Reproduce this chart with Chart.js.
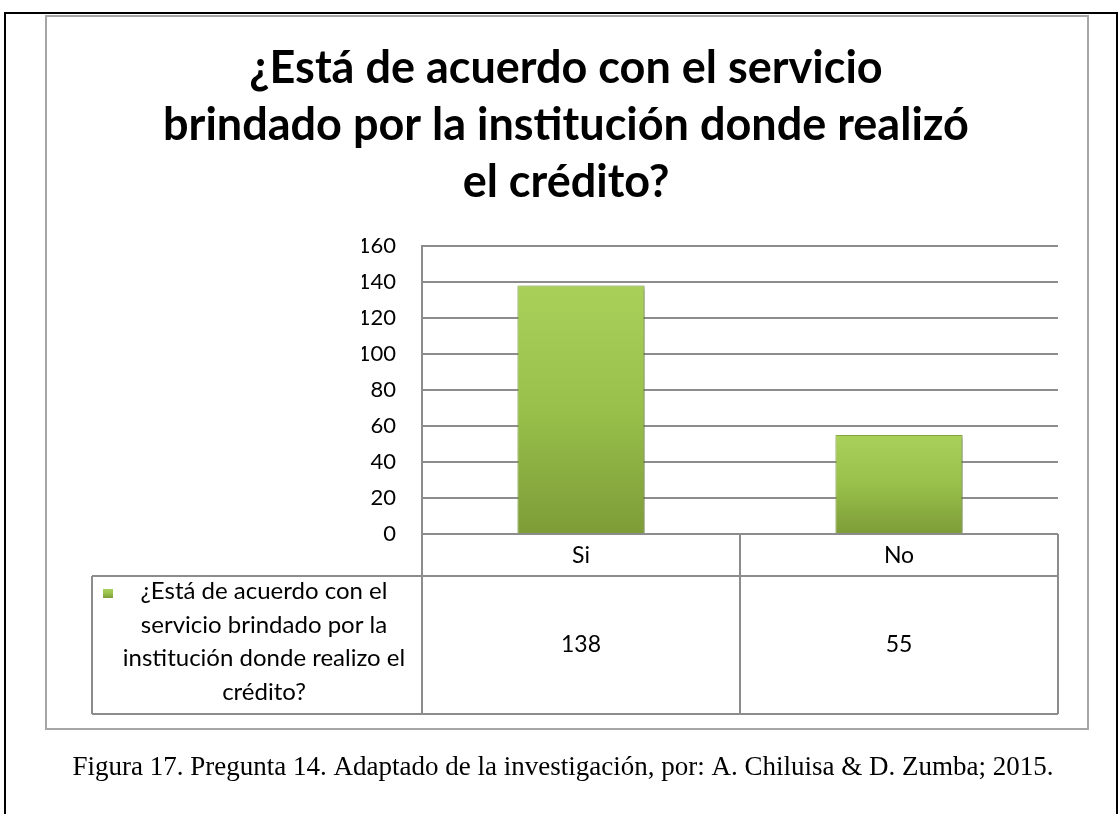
<!DOCTYPE html>
<html>
<head>
<meta charset="utf-8">
<script src="https://cdn.jsdelivr.net/npm/chart.js@4"></script>
<style>
  body { margin: 0; background: #fff; }
  canvas { display: block; }
</style>
</head>
<body>
<canvas id="chart" width="1120" height="814"></canvas>
<script>
// data
const categories = ['Si', 'No'];
const values = [138, 55];
const seriesLabel = '¿Está de acuerdo con el servicio brindado por la institución donde realizo el crédito?';
const legendLines = ['¿Está de acuerdo con el', 'servicio brindado por la', 'institución donde realizo el', 'crédito?'];
const titleLines = ['¿Está de acuerdo con el servicio', 'brindado por la institución donde realizó', 'el crédito?'];
const yTicks = [0, 20, 40, 60, 80, 100, 120, 140, 160];
const caption = 'Figura 17. Pregunta 14. Adaptado de la investigación, por: A. Chiluisa & D. Zumba; 2015.';

const FONT = 'Lato';
const LINE = '#8c8c8c';

function barGradient(c, top, bottom) {
  const g = c.createLinearGradient(0, top, 0, bottom);
  g.addColorStop(0, '#a9d15a');
  g.addColorStop(0.5, '#98c04a');
  g.addColorStop(1, '#7d9c38');
  return g;
}

const framePlugin = {
  id: 'frame',
  beforeDraw(chart) {
    const c = chart.ctx;
    c.save();
    c.fillStyle = '#fff';
    c.fillRect(0, 0, chart.width, chart.height);
    c.restore();
  },
  beforeDatasetsDraw(chart) {
    const c = chart.ctx;
    c.save();
    c.shadowColor = 'rgba(0,0,0,0.35)';
    c.shadowBlur = 4;
    c.shadowOffsetX = 2;
    c.shadowOffsetY = 1;
  },
  afterDatasetsDraw(chart) {
    chart.ctx.restore();
  },
  afterDraw(chart) {
    const c = chart.ctx;
    const area = chart.chartArea;
    const x = chart.scales.x;
    const left = area.left, right = area.right, bottom = area.bottom;
    const rowTop = 576, rowBottom = 714, cellLeft = 92;
    const mid = (x.getPixelForValue(0) + x.getPixelForValue(1)) / 2;

    c.save();
    // page border
    c.fillStyle = '#000';
    c.fillRect(4, 12, 1114, 2);
    c.fillRect(4, 12, 2, 802);
    c.fillRect(1116, 12, 2, 802);
    // chart border
    c.strokeStyle = '#a6a6a6';
    c.lineWidth = 2;
    c.strokeRect(46, 16, 1042, 713);

    // title
    c.fillStyle = '#000';
    c.font = 'bold 45px ' + FONT;
    c.textAlign = 'center';
    c.textBaseline = 'alphabetic';
    titleLines.forEach((t, i) => c.fillText(t, 566, 83 + i * 57));

    // data table lines
    c.strokeStyle = LINE;
    c.lineWidth = 2;
    c.beginPath();
    c.moveTo(left, bottom); c.lineTo(left, rowBottom);
    c.moveTo(mid, bottom); c.lineTo(mid, rowBottom);
    c.moveTo(right, bottom); c.lineTo(right, rowBottom);
    c.moveTo(cellLeft, rowTop); c.lineTo(cellLeft, rowBottom);
    c.moveTo(cellLeft, rowTop); c.lineTo(right, rowTop);
    c.moveTo(cellLeft, rowBottom); c.lineTo(right, rowBottom);
    c.stroke();

    // legend key + series name
    c.fillStyle = barGradient(c, 589, 598);
    c.fillRect(103, 589, 10, 9);
    c.fillStyle = '#000';
    c.font = '24px ' + FONT;
    c.textBaseline = 'alphabetic';
    legendLines.forEach((t, i) => c.fillText(t, 264, 599 + i * 33.5));

    // values row
    c.font = '23px ' + FONT;
    c.textBaseline = 'middle';
    values.forEach((v, i) => c.fillText(String(v), x.getPixelForValue(i), (rowTop + rowBottom) / 2));

    // caption
    c.font = '27px "Liberation Serif"';
    c.textBaseline = 'alphabetic';
    c.fillText(caption, 563, 775);
    c.restore();
  }
};

new Chart(document.getElementById('chart'), {
  type: 'bar',
  data: {
    labels: categories,
    datasets: [{
      label: seriesLabel,
      data: values,
      backgroundColor: (ctx) => {
        const chart = ctx.chart;
        if (!chart.chartArea || !chart.scales.y) return '#98c04a';
        const top = chart.scales.y.getPixelForValue(ctx.raw);
        return barGradient(chart.ctx, top, chart.chartArea.bottom);
      },
      borderColor: '#8db044',
      borderWidth: 1,
      categoryPercentage: 1,
      barPercentage: 0.4
    }]
  },
  options: {
    responsive: false,
    animation: false,
    devicePixelRatio: 1,
    layout: { padding: { left: 362, right: 62, top: 246, bottom: 238 } },
    plugins: {
      legend: { display: false },
      title: { display: false },
      tooltip: { enabled: false }
    },
    scales: {
      x: {
        afterFit: (s) => { s.height = 42; },
        grid: { display: false, drawTicks: false },
        border: { display: false },
        ticks: { color: '#000', padding: 8, font: { family: FONT, size: 23 } }
      },
      y: {
        min: yTicks[0],
        max: yTicks[yTicks.length - 1],
        afterFit: (s) => { s.width = 60; },
        afterBuildTicks: (s) => { s.ticks = yTicks.map(v => ({ value: v })); },
        grid: { color: LINE, lineWidth: 2, drawTicks: false },
        border: { color: LINE, width: 2 },
        ticks: { color: '#000', padding: 26, font: { family: FONT, size: 22 } }
      }
    }
  },
  plugins: [framePlugin]
});
</script>
</body>
</html>
